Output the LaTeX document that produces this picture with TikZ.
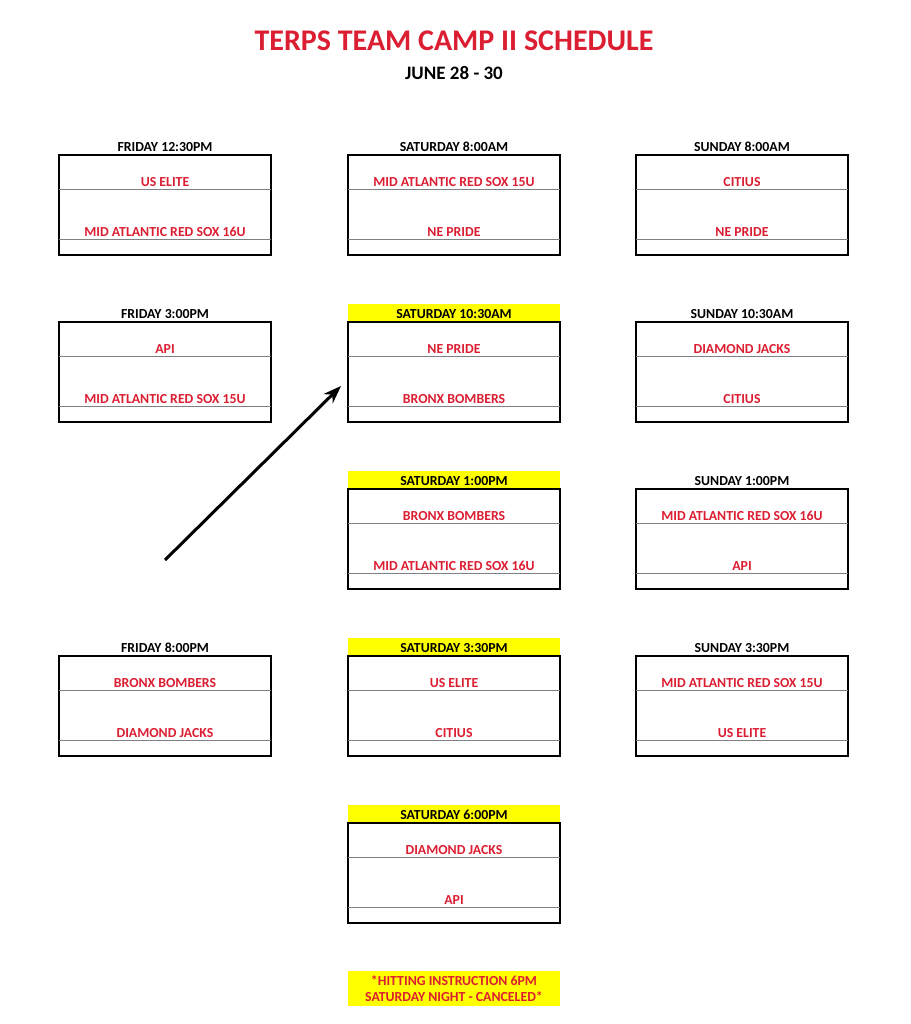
\documentclass[tikz,border=0pt]{standalone}
\usepackage{fontspec}
\setmainfont{Carlito}
\usetikzlibrary{arrows.meta}
\definecolor{terpred}{RGB}{220,30,50}
\definecolor{hiyellow}{RGB}{255,255,0}
\tikzset{
  team/.style={font=\bfseries\fontsize{13.8}{15}\selectfont, text=terpred},
  slot/.style={font=\bfseries\fontsize{13.8}{15}\selectfont},
}
% \game{name}{x}{y}{time}{team1}{team2}{header fill}
\newcommand{\game}[7]{
  \fill[#7] (#2, #3-18) rectangle (#2+212, #3-1);
  \node[slot] (#1h) at (#2+106, #3-8) {#4};
  \draw[line width=1.5pt] (#2, #3) rectangle (#2+212, #3+100);
  \draw[gray] (#2, #3+34) -- (#2+212, #3+34);
  \draw[gray] (#2, #3+84) -- (#2+212, #3+84);
  \node[team] (#1a) at (#2+106, #3+27) {#5};
  \node[team] (#1b) at (#2+106, #3+77) {#6};
}
\begin{document}
\begin{tikzpicture}[x=1pt, y=-1pt]
\useasboundingbox[fill=white] (0,0) rectangle (910,1024);

\node[font=\bfseries\fontsize{30}{34}\selectfont, text=terpred] (title) at (454,41) {TERPS TEAM CAMP II SCHEDULE};
\node[font=\bfseries\fontsize{19}{22}\selectfont] (dates) at (454,73) {JUNE 28 - 30};

\game{fa}{59}{155}{FRIDAY 12:30PM}{US ELITE}{MID ATLANTIC RED SOX 16U}{white}
\game{fb}{59}{322}{FRIDAY 3:00PM}{API}{MID ATLANTIC RED SOX 15U}{white}
\game{fc}{59}{656}{FRIDAY 8:00PM}{BRONX BOMBERS}{DIAMOND JACKS}{white}

\game{sa}{348}{155}{SATURDAY 8:00AM}{MID ATLANTIC RED SOX 15U}{NE PRIDE}{white}
\game{sb}{348}{322}{SATURDAY 10:30AM}{NE PRIDE}{BRONX BOMBERS}{hiyellow}
\game{sc}{348}{489}{SATURDAY 1:00PM}{BRONX BOMBERS}{MID ATLANTIC RED SOX 16U}{hiyellow}
\game{sd}{348}{656}{SATURDAY 3:30PM}{US ELITE}{CITIUS}{hiyellow}
\game{se}{348}{823}{SATURDAY 6:00PM}{DIAMOND JACKS}{API}{hiyellow}

\game{ua}{636}{155}{SUNDAY 8:00AM}{CITIUS}{NE PRIDE}{white}
\game{ub}{636}{322}{SUNDAY 10:30AM}{DIAMOND JACKS}{CITIUS}{white}
\game{uc}{636}{489}{SUNDAY 1:00PM}{MID ATLANTIC RED SOX 16U}{API}{white}
\game{ud}{636}{656}{SUNDAY 3:30PM}{MID ATLANTIC RED SOX 15U}{US ELITE}{white}

\coordinate (tail) at (165,560);
\coordinate (tip) at (341,386);
\draw[-{Stealth[length=18pt,width=13pt]}, line width=3pt] (tail) -- (tip);

\fill[hiyellow] (348,971) rectangle (560,1006);
\node[team, align=center, font=\bfseries\fontsize{13.8}{16}\selectfont] (note) at (454,988.5) {*HITTING INSTRUCTION 6PM\\SATURDAY NIGHT - CANCELED*};
\end{tikzpicture}
\end{document}
